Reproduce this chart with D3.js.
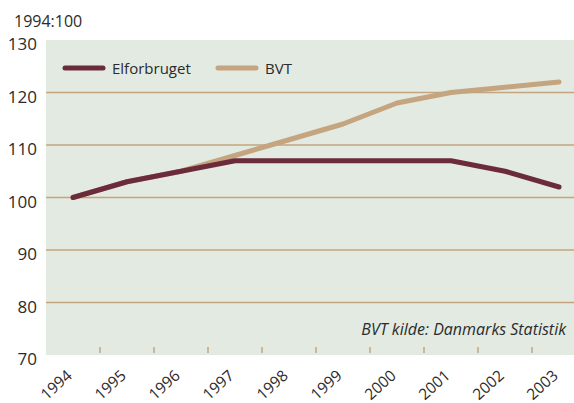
<!DOCTYPE html>
<html>
<head>
<meta charset="utf-8">
<script src="https://cdn.jsdelivr.net/npm/d3@7"></script>
<style>
  body { margin: 0; background: #fff; }
  text { font-family: "Open Sans", "Noto Sans", sans-serif; fill: #2b2b2b; }
</style>
</head>
<body>
<div id="chart"></div>
<script>
const years = ["1994","1995","1996","1997","1998","1999","2000","2001","2002","2003"]
const elforbruget = [100, 103, 105, 107, 107, 107, 107, 107, 105, 102]
const bvt = [100, 103, 105, 108, 111, 114, 118, 120, 121, 122]
const yTicks = [70, 80, 90, 100, 110, 120, 130]

const width = 574, height = 403
const plotLeft = 46, plotTop = 40, plotBottom = 355

const svg = d3.select("#chart").append("svg")
  .attr("width", width).attr("height", height)

// scales
const xScale = d3.scaleBand()
  .domain(years)
  .range([plotLeft, plotLeft + 540])
const yScale = d3.scaleLinear()
  .domain([70, 130])
  .range([plotBottom, plotTop])

svg.append("rect")
  .attr("x", plotLeft).attr("y", plotTop)
  .attr("width", width - plotLeft).attr("height", plotBottom - plotTop)
  .attr("fill", "#e3eae1")

// gridlines
svg.append("g").selectAll("line")
  .data(yTicks.filter(d => d > 70 && d < 130))
  .enter().append("line")
  .attr("x1", plotLeft).attr("x2", width)
  .attr("y1", d => yScale(d)).attr("y2", d => yScale(d))
  .attr("stroke", "#c4a57f").attr("stroke-width", 1.5)

// y labels
svg.append("g").selectAll("text")
  .data(yTicks)
  .enter().append("text")
  .attr("x", 37)
  .attr("y", d => yScale(d) + 10)
  .attr("text-anchor", "end")
  .attr("font-size", 17)
  .text(d => d)

svg.append("text")
  .attr("x", 14).attr("y", 27)
  .attr("font-size", 16)
  .text("1994:100")

// x ticks at band boundaries
svg.append("g").selectAll("line")
  .data(years.slice(1))
  .enter().append("line")
  .attr("x1", d => xScale(d)).attr("x2", d => xScale(d))
  .attr("y1", plotBottom - 8).attr("y2", plotBottom - 2)
  .attr("stroke", "#b89c78").attr("stroke-width", 1.3)

svg.append("g").selectAll("text")
  .data(years)
  .enter().append("text")
  .attr("text-anchor", "end")
  .attr("font-size", 15.5)
  .attr("transform", d => `translate(${xScale(d) + xScale.bandwidth() / 2},${377}) rotate(-42)`)
  .text(d => d)

// lines
const line = d3.line()
  .x((d, i) => xScale(years[i]) + xScale.bandwidth() / 2)
  .y(d => yScale(d))

svg.append("path")
  .datum(bvt)
  .attr("d", line)
  .attr("fill", "none")
  .attr("stroke", "#c4a57f")
  .attr("stroke-width", 5)
  .attr("stroke-linecap", "round")
  .attr("stroke-linejoin", "round")

svg.append("path")
  .datum(elforbruget)
  .attr("d", line)
  .attr("fill", "none")
  .attr("stroke", "#6b2b3c")
  .attr("stroke-width", 5)
  .attr("stroke-linecap", "round")
  .attr("stroke-linejoin", "round")

// legend
const legend = [
  { name: "Elforbruget", color: "#6b2b3c", x: 65 },
  { name: "BVT", color: "#c4a57f", x: 218 }
]
legend.forEach(l => {
  svg.append("line")
    .attr("x1", l.x).attr("x2", l.x + 38)
    .attr("y1", 68).attr("y2", 68)
    .attr("stroke", l.color).attr("stroke-width", 5)
    .attr("stroke-linecap", "round")
  svg.append("text")
    .attr("x", l.x + 47).attr("y", 74)
    .attr("font-size", 15)
    .text(l.name)
})

svg.append("text")
  .attr("x", 566).attr("y", 335)
  .attr("text-anchor", "end")
  .attr("font-size", 16)
  .attr("font-style", "italic")
  .text("BVT kilde: Danmarks Statistik")
</script>
</body>
</html>
